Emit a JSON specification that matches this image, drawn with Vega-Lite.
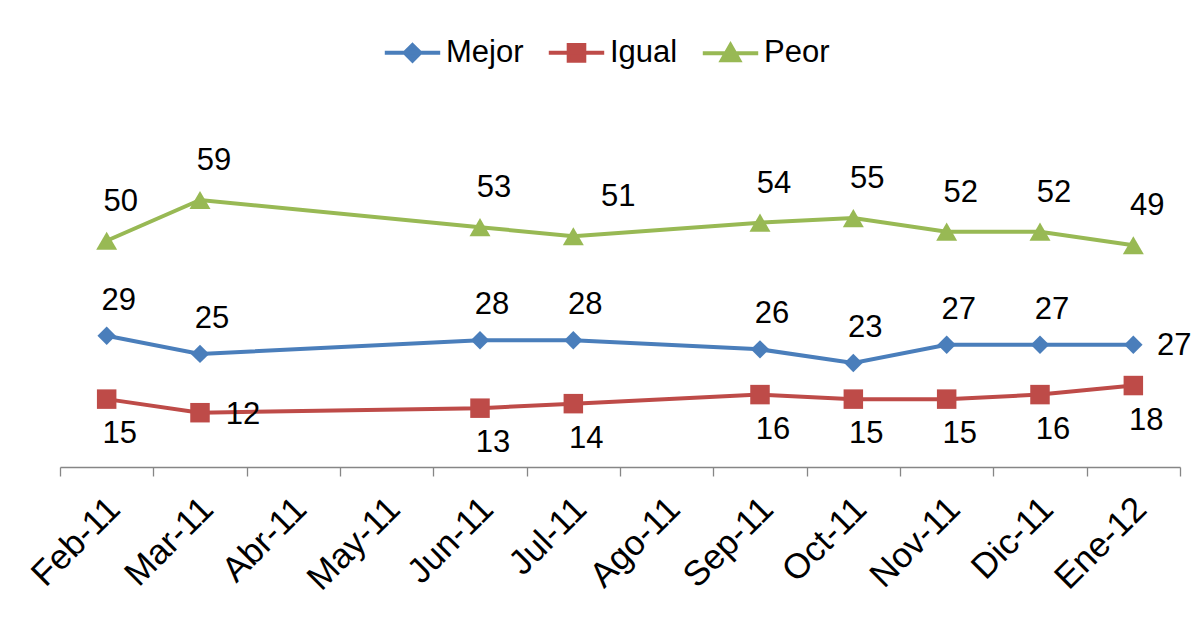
{
  "$schema": "https://vega.github.io/schema/vega-lite/v6.json",
  "autosize": "none",
  "width": 1120,
  "height": 362,
  "padding": {"left": 60, "top": 105, "right": 19, "bottom": 150},
  "background": "white",
  "config": {
    "view": {"stroke": null},
    "font": "Liberation Sans",
    "text": {"font": "Liberation Sans", "fontSize": 31, "color": "#000000"}
  },
  "data": {
    "values": [
      {"month": "Feb-11", "serie": "Mejor", "value": 29},
      {"month": "Mar-11", "serie": "Mejor", "value": 25},
      {"month": "Jun-11", "serie": "Mejor", "value": 28},
      {"month": "Jul-11", "serie": "Mejor", "value": 28},
      {"month": "Sep-11", "serie": "Mejor", "value": 26},
      {"month": "Oct-11", "serie": "Mejor", "value": 23},
      {"month": "Nov-11", "serie": "Mejor", "value": 27},
      {"month": "Dic-11", "serie": "Mejor", "value": 27},
      {"month": "Ene-12", "serie": "Mejor", "value": 27},
      {"month": "Feb-11", "serie": "Igual", "value": 15},
      {"month": "Mar-11", "serie": "Igual", "value": 12},
      {"month": "Jun-11", "serie": "Igual", "value": 13},
      {"month": "Jul-11", "serie": "Igual", "value": 14},
      {"month": "Sep-11", "serie": "Igual", "value": 16},
      {"month": "Oct-11", "serie": "Igual", "value": 15},
      {"month": "Nov-11", "serie": "Igual", "value": 15},
      {"month": "Dic-11", "serie": "Igual", "value": 16},
      {"month": "Ene-12", "serie": "Igual", "value": 18},
      {"month": "Feb-11", "serie": "Peor", "value": 50},
      {"month": "Mar-11", "serie": "Peor", "value": 59},
      {"month": "Jun-11", "serie": "Peor", "value": 53},
      {"month": "Jul-11", "serie": "Peor", "value": 51},
      {"month": "Sep-11", "serie": "Peor", "value": 54},
      {"month": "Oct-11", "serie": "Peor", "value": 55},
      {"month": "Nov-11", "serie": "Peor", "value": 52},
      {"month": "Dic-11", "serie": "Peor", "value": 52},
      {"month": "Ene-12", "serie": "Peor", "value": 49}
    ]
  },
  "encoding": {
    "x": {
      "field": "month",
      "type": "nominal",
      "sort": ["Feb-11","Mar-11","Abr-11","May-11","Jun-11","Jul-11","Ago-11","Sep-11","Oct-11","Nov-11","Dic-11","Ene-12"],
      "scale": {"type": "band", "domain": ["Feb-11","Mar-11","Abr-11","May-11","Jun-11","Jul-11","Ago-11","Sep-11","Oct-11","Nov-11","Dic-11","Ene-12"], "paddingInner": 0, "paddingOuter": 0},
      "axis": {
        "title": null, "grid": false, "tickBand": "extent",
        "domainColor": "#868686", "domainWidth": 1.3, "tickColor": "#868686", "tickWidth": 1.3, "tickSize": 9,
        "labelAngle": -45, "labelFontSize": 35, "labelFont": "Liberation Sans", "labelColor": "#000000", "labelPadding": 15, "labelOffset": -5
      }
    },
    "y": {"field": "value", "type": "quantitative", "scale": {"domain": [0, 80]}, "axis": null}
  },
  "layer": [
    {
      "mark": {"type": "point", "filled": true, "opacity": 0},
      "encoding": {
        "color": {
          "field": "serie", "type": "nominal",
          "scale": {"domain": ["Mejor","Igual","Peor"], "range": ["#4A7EBB","#BE4B48","#98B954"]},
          "legend": {
            "title": null, "orient": "none", "direction": "horizontal", "legendX": 337, "legendY": -68,
            "labelFontSize": 31, "labelFont": "Liberation Sans", "labelColor": "#000000",
            "symbolSize": 300, "symbolStrokeWidth": 4, "symbolOpacity": 1, "labelOffset": 18, "columnPadding": 16,
            "encode": {"symbols": {"update": {"stroke": {"scale": "color", "field": "value"}, "fill": {"scale": "color", "field": "value"}, "strokeWidth": {"value": 4}}}}
          }
        },
        "shape": {
          "field": "serie", "type": "nominal",
          "scale": {"domain": ["Mejor","Igual","Peor"], "range": ["M-3.2,0H3.2M0,-0.9L0.9,0L0,0.9L-0.9,0Z", "M-3.2,0H3.2M-0.9,-0.9H0.9V0.9H-0.9Z", "M-3.2,0H3.2M0,-0.95L1,0.8H-1Z"]},
          "legend": {
            "title": null, "orient": "none", "direction": "horizontal", "legendX": 337, "legendY": -68,
            "labelFontSize": 31, "labelFont": "Liberation Sans", "labelColor": "#000000",
            "symbolSize": 300, "symbolStrokeWidth": 4, "symbolOpacity": 1, "labelOffset": 18, "columnPadding": 16,
            "encode": {"symbols": {"update": {"stroke": {"scale": "color", "field": "value"}, "fill": {"scale": "color", "field": "value"}, "strokeWidth": {"value": 4}}}}
          }
        }
      }
    },
    {
      "mark": {"type": "line", "strokeWidth": 4},
      "encoding": {
        "color": {"field": "serie", "type": "nominal", "legend": null}
      }
    },
    {
      "transform": [{"filter": "datum.serie == 'Mejor'"}],
      "mark": {"type": "point", "filled": true, "opacity": 1, "shape": "diamond", "size": 340},
      "encoding": {"color": {"field": "serie", "type": "nominal", "legend": null}}
    },
    {
      "transform": [{"filter": "datum.serie == 'Igual'"}],
      "mark": {"type": "point", "filled": true, "opacity": 1, "shape": "square", "size": 380},
      "encoding": {"color": {"field": "serie", "type": "nominal", "legend": null}}
    },
    {
      "transform": [{"filter": "datum.serie == 'Peor'"}],
      "mark": {"type": "point", "filled": true, "opacity": 1, "shape": "triangle-up", "size": 440},
      "encoding": {"color": {"field": "serie", "type": "nominal", "legend": null}}
    },
    {
      "transform": [{"filter": "datum.serie == 'Peor' && datum.month != 'Jul-11'"}],
      "mark": {"type": "text", "dx": 14, "dy": -39},
      "encoding": {"text": {"field": "value", "type": "quantitative"}}
    },
    {
      "transform": [{"filter": "datum.serie == 'Peor' && datum.month == 'Jul-11'"}],
      "mark": {"type": "text", "dx": 45, "dy": -39},
      "encoding": {"text": {"field": "value", "type": "quantitative"}}
    },
    {
      "transform": [{"filter": "datum.serie == 'Mejor' && datum.month != 'Ene-12'"}],
      "mark": {"type": "text", "dx": 12, "dy": -35},
      "encoding": {"text": {"field": "value", "type": "quantitative"}}
    },
    {
      "transform": [{"filter": "datum.serie == 'Mejor' && datum.month == 'Ene-12'"}],
      "mark": {"type": "text", "dx": 41, "dy": 1},
      "encoding": {"text": {"field": "value", "type": "quantitative"}}
    },
    {
      "transform": [{"filter": "datum.serie == 'Igual' && datum.month != 'Mar-11'"}],
      "mark": {"type": "text", "dx": 13, "dy": 35},
      "encoding": {"text": {"field": "value", "type": "quantitative"}}
    },
    {
      "transform": [{"filter": "datum.serie == 'Igual' && datum.month == 'Mar-11'"}],
      "mark": {"type": "text", "dx": 43, "dy": 2},
      "encoding": {"text": {"field": "value", "type": "quantitative"}}
    }
  ]
}
